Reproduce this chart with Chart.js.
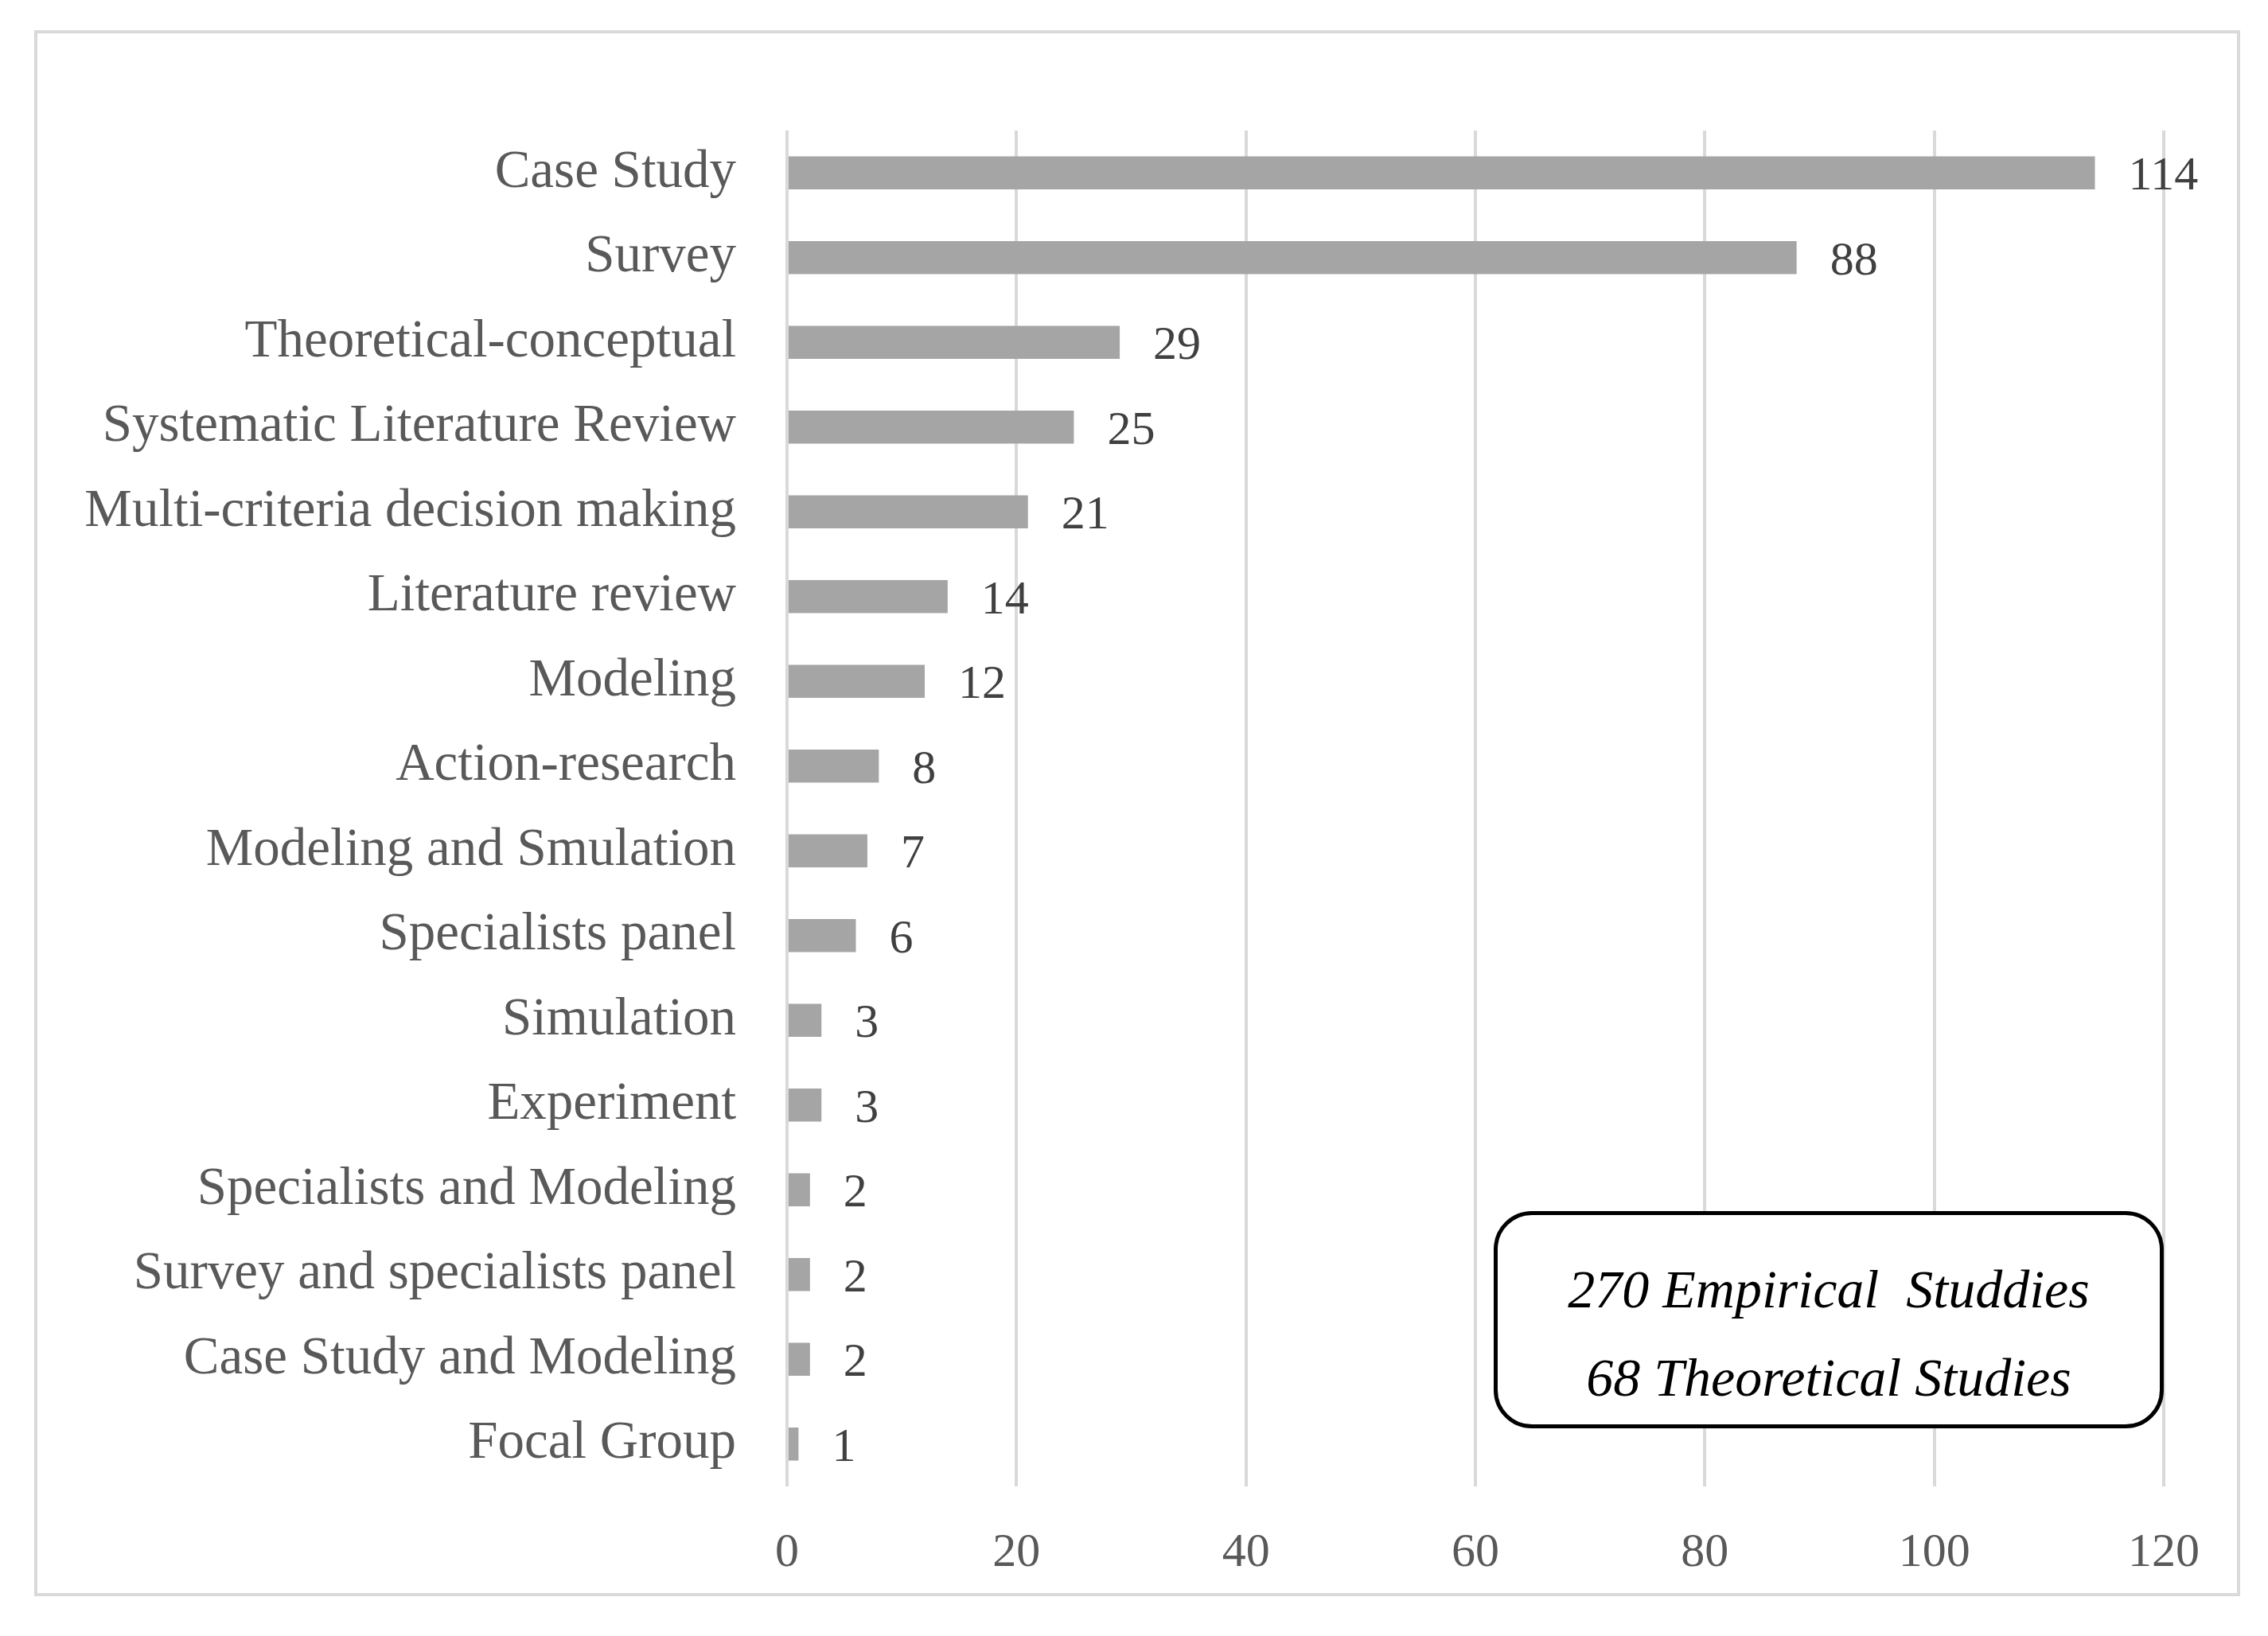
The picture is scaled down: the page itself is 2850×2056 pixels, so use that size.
<!DOCTYPE html>
<html>
<head>
<meta charset="utf-8">
<script src="https://cdn.jsdelivr.net/npm/chart.js@4.4.1/dist/chart.umd.min.js"></script>
<style>
  html, body { margin: 0; padding: 0; background: #ffffff; overflow: hidden; }
  #wrap { position: relative; width: 2850px; height: 2056px; }
  #frame { position: absolute; left: 43px; top: 38px; width: 2764px; height: 1960px; border: 4px solid #D9D9D9; box-sizing: content-box; pointer-events: none; }
  #note { position: absolute; left: 1877px; top: 1522px; width: 842px; height: 273px; box-sizing: border-box;
          border: 5px solid #000; border-radius: 48px; background: #fff; padding-top: 34px;
          font-family: "Liberation Serif", serif; font-style: italic; font-size: 68px; color: #000;
          display: flex; flex-direction: column; align-items: center; justify-content: center; line-height: 111px; white-space: pre; }
</style>
</head>
<body>
<div id="wrap">
  <canvas id="c" width="2850" height="2056"></canvas>
  <div id="frame"></div>
  <div id="note"><div>270 Empirical  Studdies</div><div>68 Theoretical Studies</div></div>
</div>
<script>
const categories = [
  "Case Study", "Survey", "Theoretical-conceptual", "Systematic Literature Review",
  "Multi-criteria decision making", "Literature review", "Modeling", "Action-research",
  "Modeling and Smulation", "Specialists panel", "Simulation", "Experiment",
  "Specialists and Modeling", "Survey and specialists panel", "Case Study and Modeling", "Focal Group"
];
const studyCounts = [114, 88, 29, 25, 21, 14, 12, 8, 7, 6, 3, 3, 2, 2, 2, 1];
const xTicks = [0, 20, 40, 60, 80, 100, 120];

const valueLabels = {
  id: 'valueLabels',
  afterDatasetsDraw(chart) {
    const ctx = chart.ctx;
    const meta = chart.getDatasetMeta(0);
    ctx.save();
    ctx.font = '60px "Liberation Serif"';
    ctx.fillStyle = '#404040';
    ctx.textAlign = 'left';
    ctx.textBaseline = 'middle';
    meta.data.forEach((bar, i) => {
      ctx.fillText(String(studyCounts[i]), bar.x + 42, bar.y + 5);
    });
    ctx.restore();
  }
};

new Chart(document.getElementById('c'), {
  type: 'bar',
  data: {
    labels: categories,
    datasets: [{
      data: studyCounts,
      backgroundColor: '#A5A5A5',
      borderWidth: 0,
      barPercentage: 0.39,
      categoryPercentage: 1.0
    }]
  },
  options: {
    indexAxis: 'y',
    responsive: false,
    animation: false,
    devicePixelRatio: 1,
    layout: { padding: { top: 164, right: 131, bottom: 40, left: 0 } },
    plugins: { legend: { display: false }, tooltip: { enabled: false } },
    scales: {
      x: {
        min: 0, max: 120,
        afterBuildTicks(scale) { scale.ticks = xTicks.map(v => ({ value: v })); },
        grid: { color: '#D9D9D9', lineWidth: 4, drawTicks: false },
        border: { display: false },
        ticks: { font: { family: 'Liberation Serif', size: 60 }, color: '#595959', padding: 48 },
        afterFit(scale) { scale.height = 148; }
      },
      y: {
        grid: { display: false, drawTicks: false },
        border: { display: false },
        ticks: { font: { family: 'Liberation Serif', size: 67 }, color: '#595959', padding: 64, autoSkip: false },
        afterFit(scale) { scale.width = 989; }
      }
    }
  },
  plugins: [valueLabels]
});
</script>
</body>
</html>
